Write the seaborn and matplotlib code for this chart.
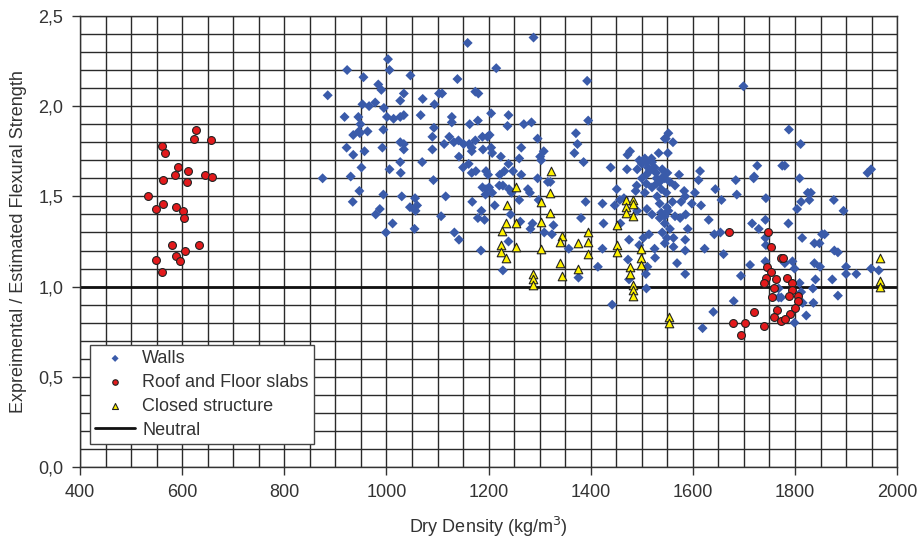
import numpy as np
import pandas as pd
import matplotlib
matplotlib.use('Agg')
import matplotlib.pyplot as plt
import seaborn as sns
from matplotlib.ticker import MultipleLocator, FuncFormatter

# Walls (dry density, ratio)
walls_x = [1003, 923, 1006, 955, 1047, 984, 990, 885, 1034, 1027, 1071, 1094, 953, 966, 978, 995,
           918, 945, 1001, 1014, 1027, 1034, 1067, 949, 946, 935, 948, 963, 994, 1093, 1090, 922,
           935, 957, 992, 1027, 1034, 1034, 1090, 1070, 1027, 951, 1006, 1028, 875, 930, 1092,
           947, 934, 994, 1030, 1056, 1046, 1060, 1057, 987, 979, 1012, 999, 1055,
           1159, 1288, 1215, 1139, 1103, 1109, 1174, 1180, 1205, 1239, 1128, 1128, 1163, 1179,
           1237, 1269, 1284, 1123, 1113, 1132, 1141, 1151, 1162, 1174, 1188, 1198, 1202, 1167,
           1167, 1189, 1205, 1207, 1296, 1308, 1264, 1301, 1303, 1142, 1224, 1260, 1161, 1239,
           1150, 1167, 1175, 1195, 1199, 1222, 1231, 1248, 1264, 1296, 1316,
           1116, 1188, 1195, 1201, 1194, 1207, 1221, 1228, 1240, 1245, 1277, 1281, 1168, 1212,
           1260, 1298, 1186, 1243, 1107, 1179, 1192, 1262, 1286, 1282, 1133, 1142, 1239, 1185,
           1228, 1309,
           1393, 1395, 1371, 1374, 1368, 1386, 1439, 1471, 1491, 1472, 1477, 1545, 1533, 1506,
           1509, 1519, 1525, 1509, 1529, 1542, 1321,
           1699, 1552, 1547, 1561, 1551, 1573, 1614, 1611, 1684, 1726, 1720, 1545, 1775,
           1788, 1811, 1780, 1809, 1949, 1942,
           1451, 1488, 1506, 1390, 1423, 1457, 1465, 1447, 1510, 1381, 1327, 1425, 1458, 1491,
           1324, 1357, 1423, 1475, 1503, 1514, 1495, 1525, 1526, 1473, 1511, 1508, 1414, 1376,
           1475, 1509, 1442, 1535, 1538, 1535, 1545, 1538, 1529, 1545, 1509,
           1565, 1583, 1585, 1604, 1644, 1656, 1686, 1719, 1743, 1577, 1598, 1616, 1549, 1545,
           1565, 1575, 1586, 1631, 1590, 1716, 1729, 1742, 1642, 1654, 1585, 1562, 1549, 1562,
           1585, 1623, 1660, 1569, 1585, 1694, 1712, 1742, 1743, 1742, 1680, 1640, 1619, 1768,
           1768,
           1825, 1831, 1828, 1812, 1804, 1876, 1895, 1787, 1814, 1838, 1848, 1853, 1858, 1877,
           1884, 1795, 1780, 1799, 1838, 1849, 1900, 1949, 1900, 1920, 1840, 1873, 1809, 1835,
           1773, 1812, 1884, 1815, 1836, 1822, 1799, 1964,
           1495, 1500, 1512, 1520, 1515, 1528, 1540, 1550, 1555, 1535, 1520, 1500, 1490, 1548,
           1530, 1560, 1552, 1540, 1555, 1520]
walls_y = [2.26, 2.20, 2.20, 2.16, 2.17, 2.12, 2.09, 2.06, 2.07, 2.03, 2.04, 2.01, 2.01, 2.00, 2.02, 1.99,
           1.94, 1.94, 1.94, 1.93, 1.94, 1.95, 1.95, 1.90, 1.86, 1.84, 1.85, 1.86, 1.87, 1.88, 1.83, 1.77,
           1.73, 1.75, 1.77, 1.80, 1.79, 1.76, 1.76, 1.69, 1.69, 1.66, 1.65, 1.63, 1.60, 1.61, 1.59,
           1.53, 1.47, 1.51, 1.50, 1.49, 1.44, 1.45, 1.42, 1.43, 1.40, 1.35, 1.30, 1.32,
           2.35, 2.38, 2.21, 2.15, 2.07, 2.07, 2.08, 2.07, 1.96, 1.95, 1.94, 1.91, 1.90, 1.92,
           1.89, 1.90, 1.91, 1.83, 1.79, 1.80, 1.81, 1.79, 1.79, 1.81, 1.83, 1.83, 1.84, 1.77,
           1.75, 1.76, 1.77, 1.74, 1.82, 1.75, 1.77, 1.72, 1.70, 1.72, 1.72, 1.71, 1.68, 1.68,
           1.66, 1.63, 1.64, 1.64, 1.62, 1.62, 1.64, 1.64, 1.62, 1.60, 1.58,
           1.50, 1.55, 1.54, 1.55, 1.51, 1.52, 1.56, 1.56, 1.54, 1.52, 1.54, 1.52, 1.47, 1.45,
           1.48, 1.48, 1.42, 1.40, 1.39, 1.38, 1.37, 1.36, 1.35, 1.32, 1.30, 1.26, 1.25, 1.20,
           1.09, 1.30,
           2.14, 1.92, 1.85, 1.79, 1.74, 1.69, 1.66, 1.65, 1.65, 1.73, 1.75, 1.82, 1.74, 1.71,
           1.69, 1.71, 1.66, 1.62, 1.60, 1.61, 1.58,
           2.11, 1.85, 1.82, 1.80, 1.74, 1.62, 1.64, 1.59, 1.59, 1.67, 1.61, 1.60, 1.67,
           1.87, 1.79, 1.67, 1.60, 1.65, 1.63,
           1.54, 1.53, 1.52, 1.47, 1.46, 1.48, 1.49, 1.45, 1.43, 1.38, 1.34, 1.35, 1.35, 1.42,
           1.29, 1.21, 1.21, 1.26, 1.27, 1.29, 1.23, 1.21, 1.16, 1.15, 1.11, 1.07, 1.11, 1.05,
           1.04, 0.99, 0.90, 1.46, 1.41, 1.38, 1.35, 1.54, 1.57, 1.24, 1.57,
           1.56, 1.53, 1.50, 1.52, 1.54, 1.48, 1.51, 1.60, 1.49, 1.47, 1.46, 1.45, 1.44, 1.39,
           1.39, 1.38, 1.40, 1.37, 1.32, 1.35, 1.32, 1.37, 1.29, 1.30, 1.26, 1.27, 1.27, 1.22,
           1.20, 1.21, 1.18, 1.13, 1.07, 1.06, 1.12, 1.27, 1.23, 1.14, 0.92, 0.86, 0.77, 0.99,
           0.94,
           1.52, 1.52, 1.48, 1.47, 1.43, 1.48, 1.42, 1.35, 1.27, 1.24, 1.24, 1.29, 1.29, 1.20,
           1.19, 1.14, 1.13, 1.10, 1.13, 1.11, 1.11, 1.10, 1.07, 1.07, 1.04, 1.04, 1.02, 0.99,
           0.94, 0.97, 0.95, 0.91, 0.91, 0.84, 0.80, 1.09,
           1.70, 1.68, 1.66, 1.69, 1.64, 1.63, 1.65, 1.63, 1.58, 1.58, 1.55, 1.60, 1.56, 1.52,
           1.50, 1.47, 1.42, 1.30, 1.32, 1.40]

# Roof and floor slabs
slabs_x = [627, 623, 657, 560, 566, 591, 612, 586, 645, 659, 562, 610, 534, 562, 549, 588,
           601, 604, 580, 632, 587, 606, 549, 595, 561,
           1671, 1747, 1753, 1773, 1745, 1752, 1743, 1739, 1762, 1758, 1755, 1765, 1719, 1678,
           1702, 1740, 1758, 1694, 1773, 1776, 1784, 1794, 1794, 1789, 1806, 1806, 1799, 1791,
           1780]
slabs_y = [1.87, 1.82, 1.81, 1.78, 1.74, 1.66, 1.64, 1.62, 1.62, 1.61, 1.59, 1.58, 1.50, 1.46,
           1.43, 1.44, 1.42, 1.38, 1.23, 1.23, 1.17, 1.20, 1.15, 1.14, 1.08,
           1.30, 1.30, 1.22, 1.16, 1.11, 1.08, 1.05, 1.02, 1.04, 0.99, 0.94, 0.87, 0.86, 0.80,
           0.80, 0.78, 0.83, 0.73, 0.81, 1.16, 1.05, 1.02, 0.98, 0.95, 0.95, 0.92, 0.88, 0.85,
           0.82]

# Closed structure
closed_x = [1254, 1236, 1303, 1320, 1235, 1254, 1303, 1226, 1225, 1254, 1225, 1235, 1303,
            1286, 1286, 1286, 1320, 1322, 1343, 1340, 1375, 1395, 1395, 1395, 1339, 1343, 1375,
            1451, 1451, 1451, 1470, 1483, 1483, 1470, 1470, 1483, 1499, 1499, 1499, 1477, 1477,
            1483, 1483, 1483, 1553, 1553, 1967, 1967, 1967]
closed_y = [1.55, 1.45, 1.47, 1.41, 1.35, 1.35, 1.36, 1.31, 1.23, 1.22, 1.19, 1.16, 1.21,
            1.07, 1.04, 1.01, 1.52, 1.64, 1.28, 1.25, 1.24, 1.30, 1.25, 1.18, 1.13, 1.06, 1.10,
            1.34, 1.23, 1.19, 1.48, 1.48, 1.46, 1.44, 1.41, 1.39, 1.21, 1.16, 1.12, 1.11, 1.07,
            1.01, 0.98, 0.95, 0.83, 0.80, 1.16, 1.03, 1.00]

neutral = 1.0

walls = pd.DataFrame({'x': walls_x, 'y': walls_y})
slabs = pd.DataFrame({'x': slabs_x, 'y': slabs_y})
closed = pd.DataFrame({'x': closed_x, 'y': closed_y})

sns.set_style('white')
plt.rcParams['font.family'] = ['Liberation Sans', 'DejaVu Sans']

fig, ax = plt.subplots(figsize=(9.23, 5.47), dpi=100)
fig.subplots_adjust(left=0.0867, right=0.972, top=0.971, bottom=0.146)

# grid first
ax.set_xlim(400, 2000)
ax.set_ylim(0, 2.5)
ax.xaxis.set_major_locator(MultipleLocator(200))
ax.xaxis.set_minor_locator(MultipleLocator(50))
ax.yaxis.set_major_locator(MultipleLocator(0.5))
ax.yaxis.set_minor_locator(MultipleLocator(0.1))
ax.grid(True, which='both', color='#2a2a2a', linewidth=1.0)
ax.set_axisbelow(True)

sns.scatterplot(data=walls, x='x', y='y', ax=ax, marker='D', s=26, color='#3A5BAA',
                edgecolor='none', label='Walls', zorder=3)
sns.scatterplot(data=slabs, x='x', y='y', ax=ax, marker='o', s=32, color='#E31A1C',
                edgecolor='#222222', linewidth=0.8, label='Roof and Floor slabs', zorder=4)
sns.scatterplot(data=closed, x='x', y='y', ax=ax, marker='^', s=38, color='#FFF200',
                edgecolor='#222222', linewidth=0.8, label='Closed structure', zorder=4)
ax.axhline(neutral, color='#111111', linewidth=2, label='Neutral', zorder=2)

ax.tick_params(axis='both', which='major', direction='out', length=6, width=1, pad=6,
               color='#333333', labelsize=13, labelcolor='#333333', bottom=True, left=True)
ax.tick_params(axis='both', which='minor', length=0)
ax.yaxis.set_major_formatter(FuncFormatter(lambda v, p: f'{v:.1f}'.replace('.', ',')))

for s in ax.spines.values():
    s.set_color('#333333')
    s.set_linewidth(1)

ax.set_xlabel('Dry Density (kg/m$^3$)', fontsize=13, color='#333333', labelpad=10)
ax.set_ylabel('Expreimental / Estimated Flexural Strength', fontsize=13, color='#333333',
              labelpad=8)

leg = ax.legend(loc='lower left', bbox_to_anchor=(0.012, 0.051), fontsize=13,
                frameon=True, fancybox=False, edgecolor='#444444', framealpha=1,
                borderpad=0.3, labelspacing=0.38, handlelength=2.2, handletextpad=0.4,
                borderaxespad=0, markerscale=0.7)
leg.get_frame().set_linewidth(1)
for t in leg.get_texts():
    t.set_color('#333333')

plt.savefig('out.png', dpi=100)
